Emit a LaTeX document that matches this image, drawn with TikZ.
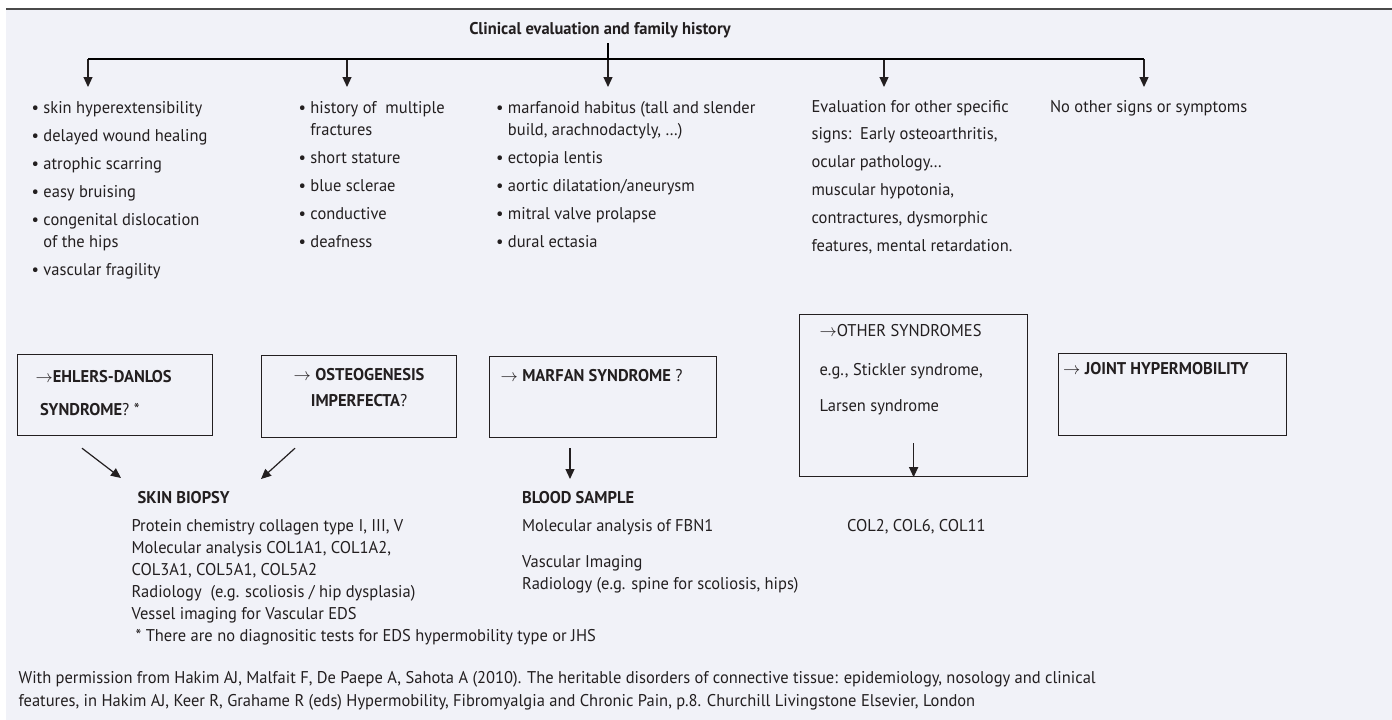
\documentclass[tikz,border=0pt]{standalone}
\usepackage{fontspec}
\setmainfont{PT Sans}[FakeStretch=0.97]
\usetikzlibrary{arrows.meta, positioning}
\definecolor{cpaper}{HTML}{F1F2F8}
\definecolor{cink}{HTML}{231F20}
\definecolor{crule}{HTML}{4A4A4A}
% multi-line labels are anchored at the baseline of their last line
\tikzset{
  every picture/.style={line width=1.2pt},
  arrow/.style={-{Triangle[length=10pt, width=9pt]}, draw=cink},
  sbox/.style={draw=cink, anchor=north west, inner sep=0pt},
  lbl/.style={anchor=base west, align=left, inner sep=0pt, text=cink, font=\fontsize{17}{22.5}\selectfont},
  tight/.style={font=\fontsize{17}{22}\selectfont},
  title/.style={font=\fontsize{17}{20}\selectfont\bfseries, text=cink},
}
\newcommand{\hang}{\phantom{\textbullet\ }}

\begin{document}
\begin{tikzpicture}[x=1pt, y=-1pt]
  \useasboundingbox (0,0) rectangle (1392,720);
  \fill[cpaper] (6,9) rectangle (1392,720);
  \draw[crule, line width=2pt] (6,9) -- (1392,9);

  % top of the tree
  \node[title] (clin) at (600,30) {Clinical evaluation and family history};
  \coordinate (stem) at (608,43);
  \foreach \n/\x in {1/88, 2/347, 3/608, 4/884, 5/1144} {
    \coordinate (bar\n) at (\x,59);
    \coordinate (tip\n) at (\x,87);
    \draw[arrow] (bar\n) -- (tip\n);
  }
  \draw (bar1) -- (bar5);
  \draw (stem) -- (bar3);

  % signs per branch
  \node[lbl] (eds signs) at (31,275.5) {\textbullet\ skin hyperextensibility\\[5.5pt]
    \textbullet\ delayed wound healing\\[5.5pt]
    \textbullet\ atrophic scarring\\[5.5pt]
    \textbullet\ easy bruising\\[5.5pt]
    \textbullet\ congenital dislocation\\
    \hang of the hips\\[5.5pt]
    \textbullet\ vascular fragility};
  \node[lbl] (oi signs) at (298,247.5) {\textbullet\ history of\ \ multiple\\
    \hang fractures\\[5.5pt]
    \textbullet\ short stature\\[5.5pt]
    \textbullet\ blue sclerae\\[5.5pt]
    \textbullet\ conductive\\[5.5pt]
    \textbullet\ deafness};
  \node[lbl] (mfs signs) at (495.5,247.5) {\textbullet\ marfanoid habitus (tall and slender\\
    \hang build, arachnodactyly, …)\\[5.5pt]
    \textbullet\ ectopia lentis\\[5.5pt]
    \textbullet\ aortic dilatation/aneurysm\\[5.5pt]
    \textbullet\ mitral valve prolapse\\[5.5pt]
    \textbullet\ dural ectasia};
  \node[lbl] (other signs) at (811,251) {Evaluation for other specific\\[5.3pt]
    signs:\ \ Early osteoarthritis,\\[5.3pt]
    ocular pathology…\\[5.3pt]
    muscular hypotonia,\\[5.3pt]
    contractures, dysmorphic\\[5.3pt]
    features, mental retardation.};
  \node[lbl] (no signs) at (1049.5,112) {No other signs or symptoms};

  % suspected diagnoses
  \node[sbox, minimum width=195pt, minimum height=81pt] (eds) at (17,354) {};
  \node[sbox, minimum width=195pt, minimum height=82pt] (oi) at (261,355) {};
  \node[sbox, minimum width=227pt, minimum height=81pt] (mfs) at (489,356) {};
  \node[sbox, minimum width=228pt, minimum height=162pt] (other) at (799,314) {};
  \node[sbox, minimum width=228pt, minimum height=82pt] (jhm) at (1057.5,353) {};

  \node[lbl] (eds name) at ([shift={(18,61)}]eds.north west)
    {$\rightarrow$\textbf{EHLERS-DANLOS}\\[10.5pt]\ \textbf{SYNDROME}? *};
  \node[lbl, anchor=base, align=center] (oi name) at ([shift={(0,51)}]oi.north)
    {$\rightarrow$ \textbf{OSTEOGENESIS}\\[3.5pt]\textbf{IMPERFECTA}?};
  \node[lbl] (mfs name) at ([shift={(11,25)}]mfs.north west)
    {$\rightarrow$ \textbf{MARFAN SYNDROME} ?};
  \node[lbl] (other name) at ([shift={(20,97.5)}]other.north west)
    {$\rightarrow$OTHER SYNDROMES\\[16.5pt]e.g., Stickler syndrome,\\[13.5pt]Larsen syndrome};
  \node[lbl] (jhm name) at ([shift={(5,21)}]jhm.north west)
    {$\rightarrow$ \textbf{JOINT HYPERMOBILITY}};
  \coordinate (otherTop) at ([yshift=34pt]other.south);
  \draw[arrow] (otherTop) -- (other.south);

  % tests
  \node[lbl, tight] (biopsy) at (131,641) {\hspace*{6pt}\textbf{SKIN BIOPSY}\\[6pt]
    Protein chemistry collagen type I, III, V\\
    Molecular analysis COL1A1, COL1A2,\\
    COL3A1, COL5A1, COL5A2\\
    Radiology\ \ (e.g. scoliosis / hip dysplasia)\\
    Vessel imaging for Vascular EDS\\
    \hspace*{4pt}* There are no diagnositic tests for EDS hypermobility type or JHS};
  \node[lbl, tight] (blood) at (521.5,589.5) {\textbf{BLOOD SAMPLE}\\[6pt]
    Molecular analysis of FBN1\\[14.5pt]
    Vascular Imaging\\
    Radiology (e.g. spine for scoliosis, hips)};
  \node[lbl] (genes) at (846.5,531.5) {COL2, COL6, COL11};

  \coordinate (edsOut) at ([shift={(65,12)}]eds.south west);
  \coordinate (edsIn) at (121,478);
  \coordinate (oiOut) at ([shift={(34,10)}]oi.south west);
  \coordinate (oiIn) at (261,479);
  \coordinate (mfsOut) at ([shift={(81,10)}]mfs.south west);
  \coordinate (mfsIn) at (570,479);
  \draw[arrow] (edsOut) -- (edsIn);
  \draw[arrow] (oiOut) -- (oiIn);
  \draw[arrow] (mfsOut) -- (mfsIn);

  % source line
  \node[lbl] (source) at (18,706) {With permission from Hakim AJ, Malfait F, De Paepe A, Sahota A (2010). The heritable disorders of connective tissue: epidemiology, nosology and clinical\\
    features, in Hakim AJ, Keer R, Grahame R (eds) Hypermobility, Fibromyalgia and Chronic Pain, p.8. Churchill Livingstone Elsevier, London};
\end{tikzpicture}
\end{document}
